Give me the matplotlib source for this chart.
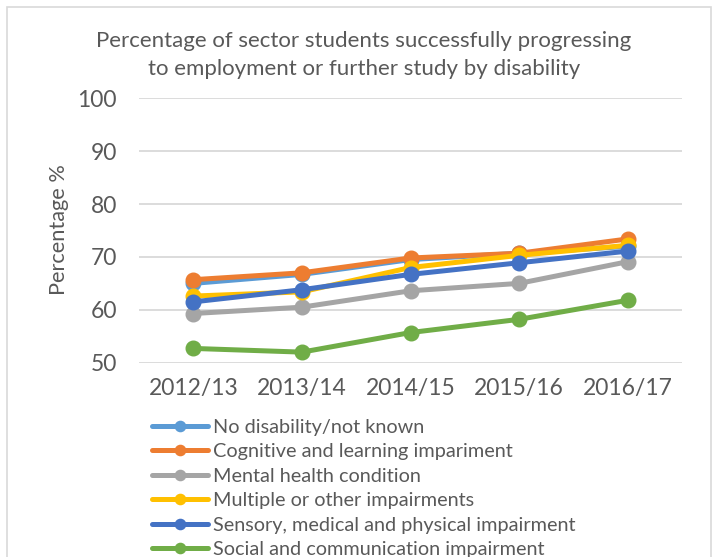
import matplotlib.pyplot as plt
from matplotlib.patches import Rectangle

plt.rcParams['font.family'] = ['Lato', 'DejaVu Sans']

years = ['2012/13', '2013/14', '2014/15', '2015/16', '2016/17']

no_disability = [65.0, 66.7, 69.5, 70.7, 72.0]
cognitive     = [65.7, 67.0, 69.8, 70.7, 73.4]
mental_health = [59.3, 60.5, 63.6, 65.0, 69.1]
multiple      = [62.6, 63.4, 68.0, 70.3, 72.2]
sensory       = [61.5, 63.8, 66.7, 68.9, 71.1]
social        = [52.7, 52.0, 55.7, 58.2, 61.8]

series = [
    ('No disability/not known', no_disability, '#5B9BD5'),
    ('Cognitive and learning impariment', cognitive, '#ED7D31'),
    ('Mental health condition', mental_health, '#A5A5A5'),
    ('Multiple or other impairments', multiple, '#FFC000'),
    ('Sensory, medical and physical impairment', sensory, '#4472C4'),
    ('Social and communication impairment', social, '#70AD47'),
]

W, H = 715, 557
txt = '#595959'
fig = plt.figure(figsize=(W / 100, H / 100), dpi=100)

# chart border
fig.patches.append(Rectangle((7 / W, -0.1), 704 / W, 1.1 - 7 / H,
                             transform=fig.transFigure, fill=False,
                             edgecolor='#D9D9D9', linewidth=1.2))

ax = fig.add_axes([139 / W, 1 - 362.7 / H, 543 / W, (362.7 - 98.3) / H])

x = list(range(len(years)))
for name, vals, col in series:
    ax.plot(x, vals, color=col, linewidth=3.6, marker='o', markersize=10.5,
            label=name, solid_capstyle='round')

ax.set_xlim(-0.5, 4.5)
ax.set_ylim(50, 100)
ax.set_yticks(range(50, 101, 10))
ax.set_xticks(x)
ax.set_xticklabels(years)
ax.grid(axis='y', color='#D9D9D9', linewidth=1.3)
ax.set_axisbelow(True)
for s in ax.spines.values():
    s.set_visible(False)
ax.tick_params(length=0, labelsize=16.5, colors=txt)
ax.tick_params(axis='y', pad=16)
ax.tick_params(axis='x', pad=11)

fig.text(59 / W, 1 - 230 / H, 'Percentage %', rotation=90, ha='center',
         va='center', fontsize=15.7, color=txt)

fig.text(364 / W, 1 - 55 / H,
         'Percentage of sector students successfully progressing\nto employment or further study by disability',
         ha='center', va='center', fontsize=16, color=txt, linespacing=1.45)

leg = fig.legend(loc='upper left', bbox_to_anchor=(152 / W, 1 - 418.5 / H),
                 frameon=False, fontsize=14.3, handlelength=2.8,
                 handletextpad=0.25, labelspacing=0.38, borderpad=0,
                 borderaxespad=0, markerscale=0.7, labelcolor=txt)

fig.savefig('out.png', dpi=100)
